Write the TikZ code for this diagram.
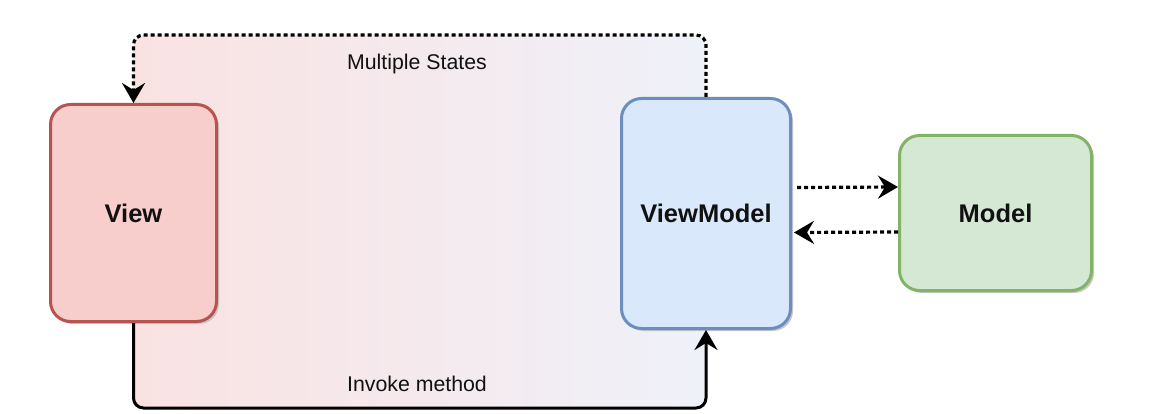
\documentclass[tikz,border=0pt]{standalone}
\usepackage{fontspec}
\setmainfont{Liberation Sans}
\usetikzlibrary{arrows.meta,shadows,calc}
\definecolor{viewfill}{HTML}{F8CECC}
\definecolor{viewdraw}{HTML}{B85450}
\definecolor{vmfill}{HTML}{DAE8FC}
\definecolor{vmdraw}{HTML}{6C8EBF}
\definecolor{mfill}{HTML}{D5E8D4}
\definecolor{mdraw}{HTML}{82B366}
\definecolor{gradL}{HTML}{FAE2E2}
\definecolor{gradR}{HTML}{EFF1F9}
\definecolor{ink}{HTML}{111111}
\tikzset{
  box/.style={rectangle, rounded corners=20pt, line width=3pt, text=ink,
    font=\fontsize{25.5}{30}\selectfont\bfseries,
    general shadow={fill=black!22, shadow xshift=2.5pt, shadow yshift=-2.5pt}},
  lbl/.style={text=ink, font=\fontsize{21.3}{25}\selectfont, inner sep=0pt},
  tipstyle/.style={-{Stealth[length=20pt,width=23pt,inset=7pt]}},
  dotconn/.style={tipstyle, line width=3.2pt, dash pattern=on 4pt off 3pt, rounded corners=10pt},
  solidconn/.style={tipstyle, line width=3pt, rounded corners=10pt},
}
\begin{document}
\begin{tikzpicture}[x=1pt,y=-1pt]
\useasboundingbox (0,0) rectangle (1156,414);
\shade[left color=gradL, right color=gradR, rounded corners=12pt] (133.5,35) rectangle (706,408);
\node[box, fill=viewfill, draw=viewdraw, minimum width=166pt, minimum height=217pt] (view) at (133.5,213) {View};
\node[box, fill=vmfill, draw=vmdraw, minimum width=169pt, minimum height=230pt] (vm) at (706,213.5) {ViewModel};
\node[box, fill=mfill, draw=mdraw, minimum width=192pt, minimum height=155pt] (model) at (995.5,213) {Model};
\coordinate (top) at (0,35);
\coordinate (bot) at (0,408);
\draw[dotconn] (vm.north) -- (vm.north |- top) -| (view.north);
\draw[solidconn] (view.south) -- (view.south |- bot) -| (vm.south);
\draw[dotconn] ($(vm.east)+(5,-26)$) -- ($(model.west)+(0,-26)$);
\draw[dotconn] ($(model.west)+(0,19)$) -- ($(vm.east)+(2,19)$);
\node[lbl] (ms) at (417,64) {Multiple States};
\node[lbl] (im) at (417,384) {Invoke method};
\end{tikzpicture}
\end{document}
